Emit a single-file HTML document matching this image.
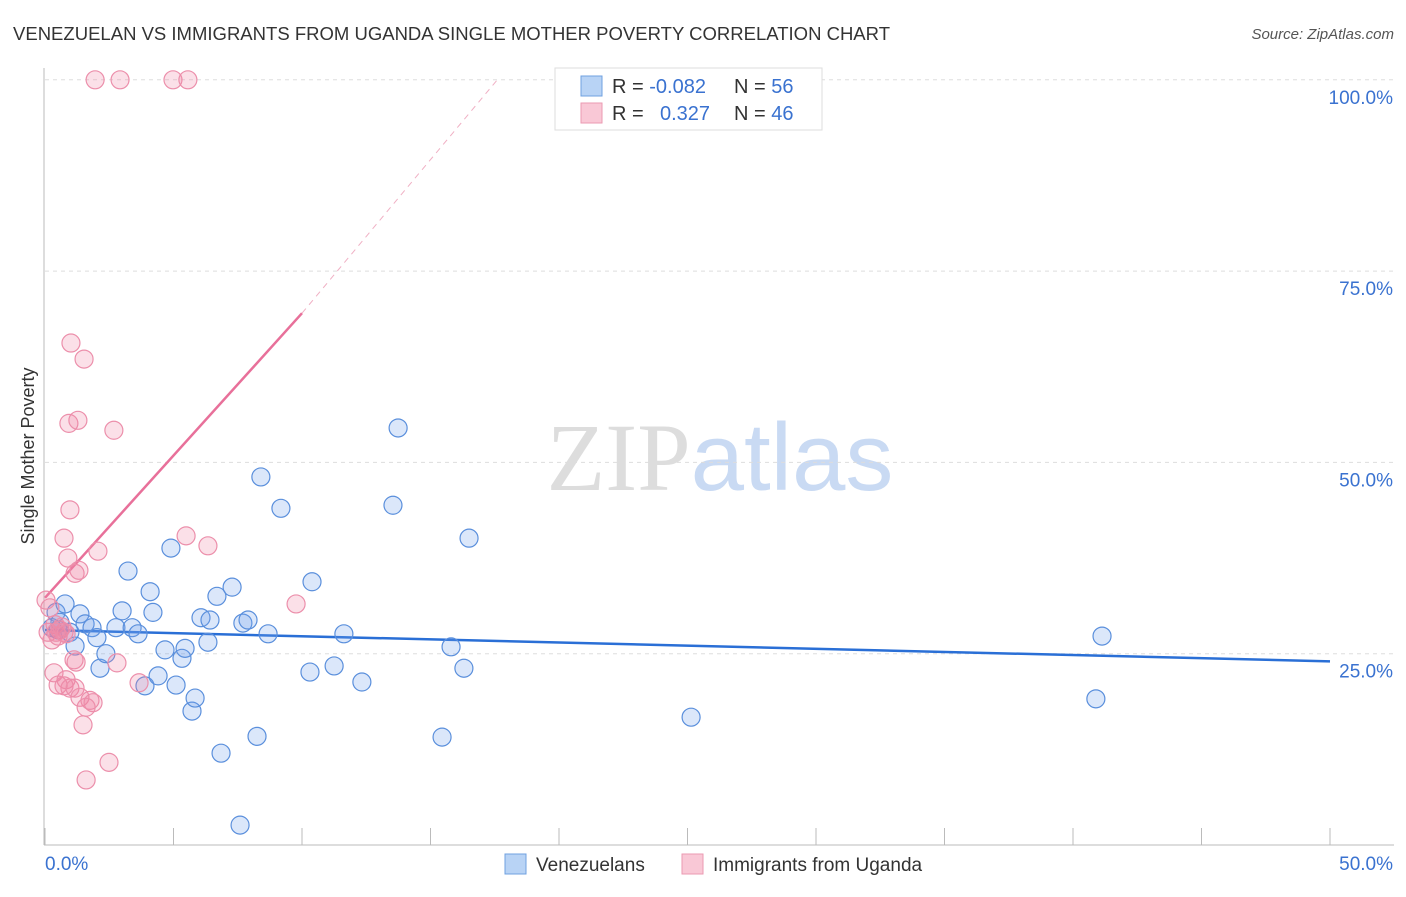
<!DOCTYPE html>
<html><head><meta charset="utf-8"><style>
body{margin:0;background:#fff;font-family:"Liberation Sans",sans-serif}
svg text{font-family:"Liberation Sans",sans-serif}
</style></head><body>
<svg id="chart" width="1406" height="892" xmlns="http://www.w3.org/2000/svg">
<text x="13" y="40" font-size="18" fill="#333" textLength="877" lengthAdjust="spacingAndGlyphs">VENEZUELAN VS IMMIGRANTS FROM UGANDA SINGLE MOTHER POVERTY CORRELATION CHART</text>
<text x="1394" y="39" font-size="15" fill="#555" text-anchor="end" font-style="italic">Source: ZipAtlas.com</text>
<text x="720" y="490" font-size="96" text-anchor="middle"><tspan fill="#ddd" font-family="Liberation Serif">ZIP</tspan><tspan fill="#c9daf3">atlas</tspan></text>
<g id="grid"></g>
<g id="axes"></g>
<g id="trend"></g>
<g id="points"></g>
<text transform="translate(34,456) rotate(-90)" font-size="18" fill="#333" text-anchor="middle">Single Mother Poverty</text>
<g>
<rect x="555" y="68" width="267" height="62" fill="#fff" stroke="#ddd"/>
<rect x="581" y="76" width="21" height="20" fill="#b8d3f5" stroke="#6fa0e0"/>
<rect x="581" y="103" width="21" height="20" fill="#f9c8d6" stroke="#eb9ab2"/>
<text x="612" y="93" font-size="20" fill="#333">R = <tspan fill="#3a72d0">-0.082</tspan></text>
<text x="734" y="93" font-size="20" fill="#333">N = <tspan fill="#3a72d0">56</tspan></text>
<text x="612" y="120" font-size="20" fill="#333">R = <tspan fill="#3a72d0" x="660">0.327</tspan></text>
<text x="734" y="120" font-size="20" fill="#333">N = <tspan fill="#3a72d0">46</tspan></text>
</g>
<g>
<rect x="505" y="854" width="21" height="20" fill="#b8d3f5" stroke="#6fa0e0"/>
<text x="536" y="871" font-size="19" fill="#333">Venezuelans</text>
<rect x="682" y="854" width="21" height="20" fill="#f9c8d6" stroke="#eb9ab2"/>
<text x="713" y="871" font-size="19" fill="#333">Immigrants from Uganda</text>
</g>
</svg>
<script>
const blueX=[0.43,0.78,0.58,0.97,1.17,1.36,1.56,1.83,2.02,2.14,2.37,2.76,3.00,3.23,3.39,3.62,3.89,4.09,4.20,4.40,4.67,4.90,5.10,5.33,5.45,5.72,5.84,6.07,6.42,6.34,6.69,6.85,7.28,7.59,7.70,7.90,8.25,8.40,8.68,9.18,10.31,10.39,11.25,11.63,12.33,13.54,13.74,15.45,15.80,16.30,16.50,25.14,40.89,41.13,0.27,0.51];
const blueY=[30.4,31.5,29.1,27.8,26.0,30.2,28.9,28.4,27.1,23.1,25.0,28.4,30.6,35.8,28.4,27.6,20.8,33.1,30.4,22.1,25.5,38.8,20.9,24.4,25.7,17.5,19.2,29.7,29.4,26.5,32.5,12.0,33.7,2.6,29.0,29.4,14.2,48.1,27.6,44.0,22.6,34.4,23.4,27.6,21.3,44.4,54.5,14.1,25.9,23.1,40.1,16.7,19.1,27.3,28.4,28.1];
const pinkX=[1.95,2.92,4.98,5.56,1.01,1.52,0.93,1.28,2.68,0.97,0.74,5.49,6.34,2.06,0.89,1.17,1.32,9.77,0.04,0.19,0.39,0.58,0.27,0.12,0.51,0.74,1.13,1.21,2.80,0.35,0.51,0.82,0.97,0.74,1.17,3.66,1.36,1.75,1.87,1.60,1.48,2.49,1.60,0.66,0.43,0.82];
const pinkY=[100,100,100,100,65.6,63.5,55.1,55.5,54.2,43.8,40.1,40.4,39.1,38.4,37.5,35.5,35.9,31.5,32.0,31.0,28.8,28.1,26.8,27.8,27.3,27.8,24.2,23.9,23.8,22.5,20.9,21.6,20.5,20.8,20.5,21.2,19.3,18.9,18.6,18.0,15.7,10.8,8.5,28.5,27.8,27.6];
const yTicks=[25,50,75,100];
const yTickLabels=["25.0%","50.0%","75.0%","100.0%"];
const blueTrend=[[0,28.1],[50,24.0]];
const pinkTrend=[[0,32.3],[10,69.5]];
const pinkDash=[[10,69.5],[17.6,100]];
const NS="http://www.w3.org/2000/svg";
const sx=v=>45+v*25.7, sy=v=>845-v*7.652;
function mk(t,a,p){const e=document.createElementNS(NS,t);for(const k in a)e.setAttribute(k,a[k]);p.appendChild(e);return e;}
const grid=document.getElementById('grid'),axes=document.getElementById('axes'),tr=document.getElementById('trend'),pts=document.getElementById('points');
yTicks.forEach((t,i)=>{
 const l=mk('line',{x1:45,x2:1394,y1:sy(t),y2:sy(t),stroke:'#ddd','stroke-dasharray':'4,4'},grid);
 
 
 const tx=mk('text',{x:1393,y:sy(t)+24,'font-size':19,fill:'#3a72d0','text-anchor':'end'},grid);
 tx.textContent=yTickLabels[i];
 
 
});
let a=mk('line',{x1:44,x2:44,y1:68,y2:845,stroke:'#bbb'},axes);


a=mk('line',{x1:44,x2:1394,y1:845,y2:845,stroke:'#bbb'},axes);


for(let i=0;i<=10;i++){const t=mk('line',{x1:sx(i*5),x2:sx(i*5),y1:828,y2:845,stroke:'#bbb'},axes);
 
 }
let xl=mk('text',{x:45,y:870,'font-size':19,fill:'#3a72d0'},axes);xl.textContent='0.0%';


xl=mk('text',{x:1393,y:870,'font-size':19,fill:'#3a72d0','text-anchor':'end'},axes);xl.textContent='50.0%';


function addPts(X,Y,fill,stroke,name){X.forEach((x,i)=>{const c=mk('circle',{cx:sx(x),cy:sy(Y[i]),r:9,fill:fill,stroke:stroke,'stroke-width':1.2},pts);
 
 });}
addPts(blueX,blueY,'rgba(110,160,235,0.25)','#5a8fdc','venezuelan-point');
addPts(pinkX,pinkY,'rgba(240,130,165,0.25)','#ec8fab','uganda-point');
function line(p,st,w,dash,name){const l=mk('line',{x1:sx(p[0][0]),y1:sy(p[0][1]),x2:sx(p[1][0]),y2:sy(p[1][1]),stroke:st,'stroke-width':w},tr);
 if(dash)l.setAttribute('stroke-dasharray',dash);
 
 }
line(blueTrend,'#2a6fd6',2.5,null,'venezuelan-trendline');
line(pinkTrend,'#e8709a',2.5,null,'uganda-trendline');
line(pinkDash,'#f0b0c4',1,'6,5','uganda-trendline-extension');
</script>
</body></html>
